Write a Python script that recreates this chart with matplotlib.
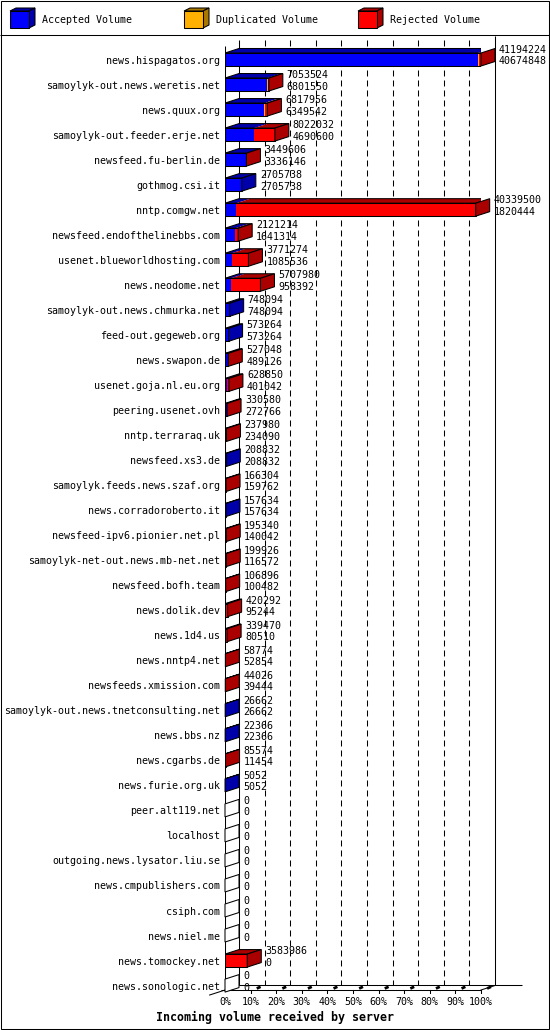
import numpy as np
import matplotlib
matplotlib.use('Agg')
import matplotlib.pyplot as plt
from matplotlib.patches import Polygon, Rectangle


# -----------------------------------------------------------------------
# Data (volume per feed)
# -----------------------------------------------------------------------
hosts = [
    "news.hispagatos.org", "samoylyk-out.news.weretis.net", "news.quux.org",
    "samoylyk-out.feeder.erje.net", "newsfeed.fu-berlin.de", "gothmog.csi.it",
    "nntp.comgw.net", "newsfeed.endofthelinebbs.com", "usenet.blueworldhosting.com",
    "news.neodome.net", "samoylyk-out.news.chmurka.net", "feed-out.gegeweb.org",
    "news.swapon.de", "usenet.goja.nl.eu.org", "peering.usenet.ovh",
    "nntp.terraraq.uk", "newsfeed.xs3.de", "samoylyk.feeds.news.szaf.org",
    "news.corradoroberto.it", "newsfeed-ipv6.pionier.net.pl",
    "samoylyk-net-out.news.mb-net.net", "newsfeed.bofh.team", "news.dolik.dev",
    "news.1d4.us", "news.nntp4.net", "newsfeeds.xmission.com",
    "samoylyk-out.news.tnetconsulting.net", "news.bbs.nz", "news.cgarbs.de",
    "news.furie.org.uk", "peer.alt119.net", "localhost",
    "outgoing.news.lysator.liu.se", "news.cmpublishers.com", "csiph.com",
    "news.niel.me", "news.tomockey.net", "news.sonologic.net",
]
total_volume = [
    41194224, 7053524, 6817956, 8022032, 3449606, 2705738, 40339500, 2121214,
    3771274, 5707980, 748094, 573264, 527048, 628850, 330580, 237980, 208832,
    166304, 157634, 195340, 199926, 106896, 420292, 339470, 58774, 44026,
    26662, 22366, 85574, 5052, 0, 0, 0, 0, 0, 0, 3583986, 0,
]
accepted_volume = [
    40674848, 6801550, 6349542, 4690600, 3336146, 2705738, 1820444, 1641314,
    1085536, 958392, 748094, 573264, 489126, 401042, 272766, 234090, 208832,
    159762, 157634, 140042, 116572, 100482, 95244, 80510, 52854, 39444,
    26662, 22366, 11454, 5052, 0, 0, 0, 0, 0, 0, 0, 0,
]
# thin orange slivers only visible on the three biggest feeds (estimated)
duplicated_volume = [150000, 60000, 150000] + [0] * 35

legend_labels = ["Accepted Volume", "Duplicated Volume", "Rejected Volume"]
pct_ticks = list(range(0, 101, 10))

# -----------------------------------------------------------------------
# Look
# -----------------------------------------------------------------------
FRONT = ["#0000ff", "#ffb000", "#ff0000"]
SHADE = ["#0000aa", "#aa7700", "#aa0000"]
FONT = "DejaVu Sans Mono"
FS = 7.2

W, H = 550, 1030
ROW_PX = 25.03
PCT_PX = 2.56
DX = 14 / PCT_PX          # 3d depth, in percent units
DY = 4.5 / ROW_PX         # 3d depth, in row units
BAR_H = 13 / ROW_PX
YMIN = (40 - 59.5) / ROW_PX
YMAX = (990 - 59.5) / ROW_PX
LW = 0.75

plt.rcParams['lines.scale_dashes'] = False

fig = plt.figure(figsize=(W / 100, H / 100), dpi=100)

# background: frame + legend, in pixel units
bg = fig.add_axes([0, 0, 1, 1], zorder=0)
bg.set_xlim(0, W)
bg.set_ylim(H, 0)
bg.axis('off')
bg.add_patch(Rectangle((0.5, 0.5), W - 1.5, H - 1.5, fill=False, lw=LW, ec='black'))
bg.hlines(35, 0, W, colors='black', lw=LW)

for i, (lab, fc, sc) in enumerate(zip(legend_labels, FRONT, SHADE)):
    x0 = 10 + i * 174
    bg.add_patch(Polygon([(x0, 11), (x0 + 19, 11), (x0 + 25, 8), (x0 + 6, 8)],
                         closed=True, fc=sc, ec='black', lw=LW))
    bg.add_patch(Polygon([(x0 + 19, 11), (x0 + 25, 8), (x0 + 25, 25), (x0 + 19, 28)],
                         closed=True, fc=sc, ec='black', lw=LW))
    bg.add_patch(Rectangle((x0, 11), 19, 17, fc=fc, ec='black', lw=LW))
    bg.text(x0 + 32, 20, lab, family=FONT, fontsize=FS, va='center', ha='left')

# main plot: x in percent of the biggest feed, y in rows
ax = fig.add_axes([225 / W, (H - 990) / H, 256 / W, 950 / H], zorder=1)
ax.set_facecolor('none')
ax.set_xlim(0, 100)
ax.set_ylim(YMAX, YMIN)
for s in ax.spines.values():
    s.set_visible(False)

vmax = max(total_volume)
rows = np.arange(len(hosts))

# back wall grid + frame
ax.vlines(np.array(pct_ticks[1:-1]) + DX, YMIN, YMAX - DY, colors='black', lw=LW,
          linestyles=(0, (4.3, 2.9)))
ax.vlines(DX, YMIN, YMAX - DY, colors='black', lw=LW)
ax.vlines(100 + DX, YMIN - 0.17, YMAX - DY, colors='black', lw=LW, clip_on=False)
ax.vlines(0, (46 - 59.5) / ROW_PX, YMAX, colors='black', lw=LW)
ax.hlines(YMAX - DY, DX, 116, colors='black', lw=LW, clip_on=False)
ax.hlines(YMAX, -1.5, 100, colors='black', lw=LW, clip_on=False)
ax.plot([100, 100 + DX], [YMAX, YMAX - DY], color='black', lw=LW, clip_on=False)
ax.plot([-6, DX], [YMAX + 0.2, YMAX - DY], color='black', lw=LW, clip_on=False)
for p in pct_ticks[1:]:
    ax.plot([p, p], [YMAX, YMAX + 0.12], color='black', lw=LW, clip_on=False)
    ax.plot([p + 2.4, p + 3.9], [YMAX - 0.06, YMAX - 0.13], color='black', lw=2,
            solid_capstyle='butt', clip_on=False)

# 3d bars
for r, tot, acc, dup in zip(rows, total_volume, accepted_volume, duplicated_volume):
    rej = tot - acc - dup
    parts = [acc / vmax * 100, dup / vmax * 100, rej / vmax * 100]
    top = r - BAR_H / 2
    bot = r + BAR_H / 2
    left = 0.0
    last_shade = 'white'
    for w, fc, sc in zip(parts, FRONT, SHADE):
        if w <= 0:
            continue
        ax.barh(r, w, left=left, height=BAR_H, color=fc, lw=0, zorder=3)
        ax.add_patch(Polygon([(left, top), (left + w, top), (left + w + DX, top - DY),
                              (left + DX, top - DY)], closed=True, fc=sc, lw=0, zorder=3))
        left += w
        last_shade = sc
    end = left
    if end > 0:
        ax.add_patch(Rectangle((0, top), end, BAR_H, fill=False, ec='black', lw=LW, zorder=4))
        ax.add_patch(Polygon([(0, top), (end, top), (end + DX, top - DY), (DX, top - DY)],
                             closed=True, fill=False, ec='black', lw=LW, zorder=4))
    ax.add_patch(Polygon([(end, top), (end + DX, top - DY), (end + DX, bot - DY), (end, bot)],
                         closed=True, fc=last_shade, ec='black', lw=LW, zorder=4,
                         clip_on=False))
    ax.annotate(str(tot), xy=(end + DX, r), xytext=(4, 9.5), textcoords='offset pixels',
                family=FONT, fontsize=FS, va='center', ha='left', annotation_clip=False)
    ax.annotate(str(acc), xy=(end + DX, r), xytext=(4, -2), textcoords='offset pixels',
                family=FONT, fontsize=FS, va='center', ha='left', annotation_clip=False)

ax.set_yticks(rows)
ax.set_yticklabels(hosts, family=FONT, fontsize=FS)
ax.set_xticks(pct_ticks)
ax.set_xticklabels([f"{p}%" for p in pct_ticks], family=FONT, fontsize=FS)
ax.tick_params(axis='y', length=0, pad=3.6)
ax.tick_params(axis='x', length=0, pad=5.2)

fig.text(274.5 / W, 1 - 1017 / H, "Incoming volume received by server",
         family=FONT, fontsize=8.4, fontweight='bold', ha='center', va='center')

fig.savefig("out.png", dpi=100)
